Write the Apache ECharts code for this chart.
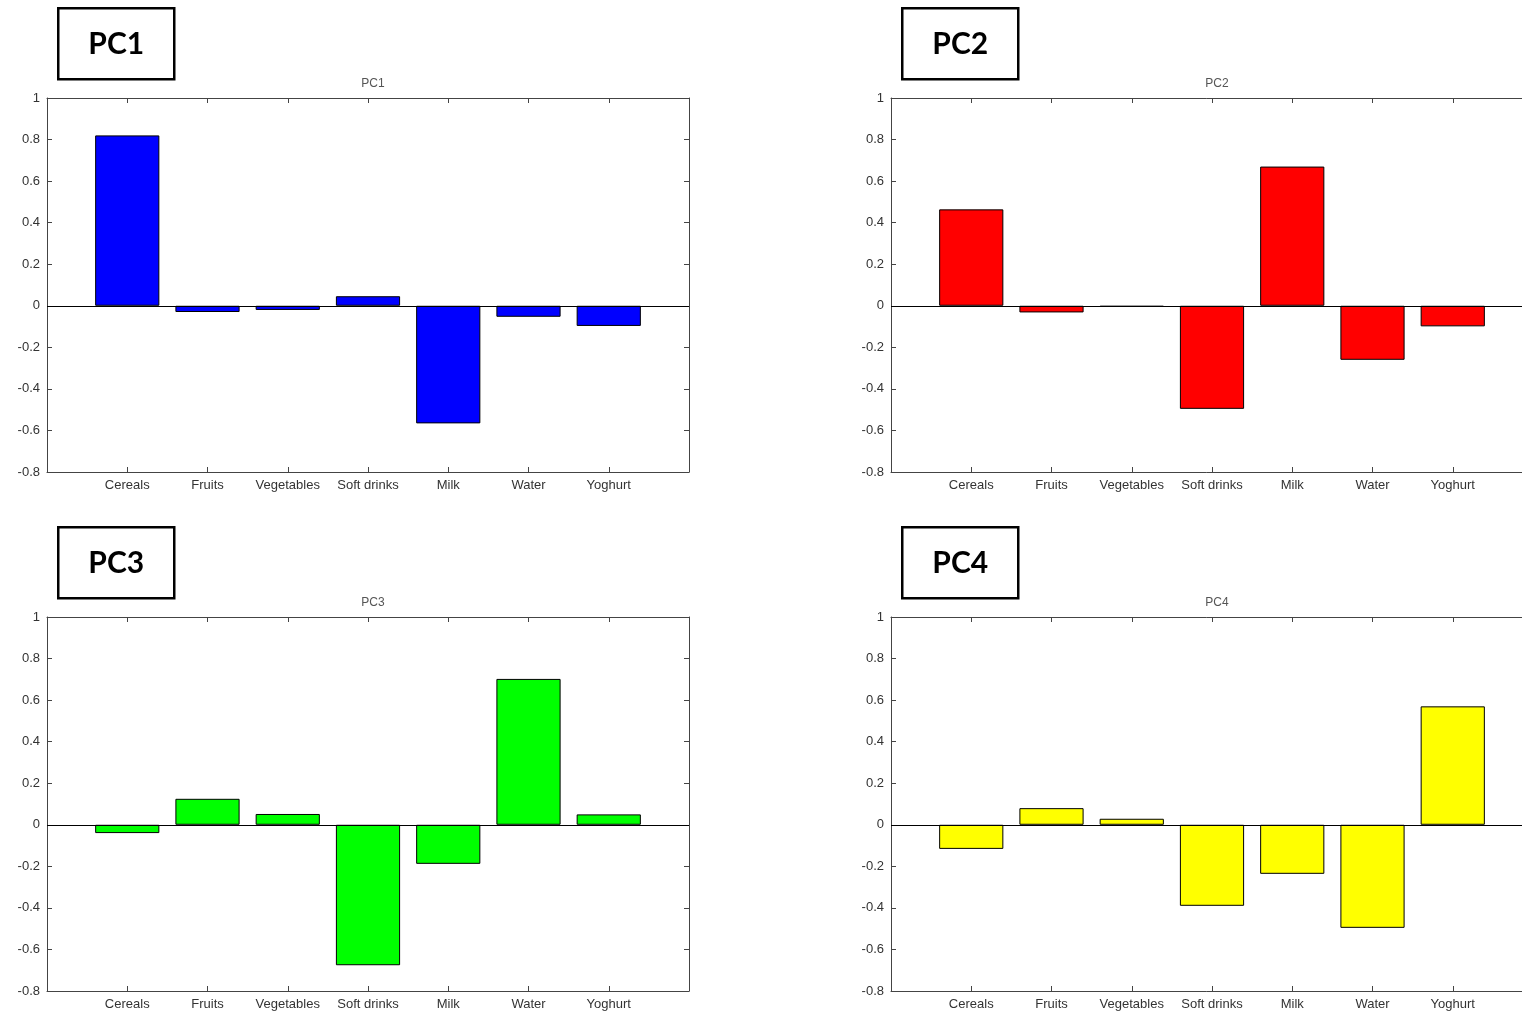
<!DOCTYPE html>
<html>
<head>
<meta charset="utf-8">
<script src="https://cdn.jsdelivr.net/npm/echarts@6/dist/echarts.min.js"></script>
<style>
html,body{margin:0;padding:0;background:#fff;}
#chart{width:1522px;height:1015px;}
</style>
</head>
<body>
<div id="chart"></div>
<script>
const categories = ['Cereals', 'Fruits', 'Vegetables', 'Soft drinks', 'Milk', 'Water', 'Yoghurt'];
const pc1 = [0.82, -0.03, -0.02, 0.046, -0.566, -0.053, -0.097];
const pc2 = [0.464, -0.032, -0.005, -0.496, 0.67, -0.26, -0.099];
const pc3 = [-0.04, 0.125, 0.052, -0.676, -0.188, 0.702, 0.05];
const pc4 = [-0.116, 0.08, 0.029, -0.39, -0.236, -0.496, 0.57];
const panelNames = ['PC1', 'PC2', 'PC3', 'PC4'];
const yTicks = {min: -0.8, max: 1, interval: 0.2};

const panels = [
  {name: panelNames[0], values: pc1, color: '#0000ff', left: 47, top: 98},
  {name: panelNames[1], values: pc2, color: '#ff0000', left: 891, top: 98},
  {name: panelNames[2], values: pc3, color: '#00ff00', left: 47, top: 617},
  {name: panelNames[3], values: pc4, color: '#ffff00', left: 891, top: 617}
];
const W = 642, H = 374;
const axisCats = [' '].concat(categories).concat(['  ']);
const font = 'Liberation Sans';
const labelColor = '#333';
const lineColor = '#444';

const grid = [], xAxis = [], yAxis = [], series = [], title = [], graphic = [];
panels.forEach((p, i) => {
  grid.push({left: p.left, top: p.top, width: W, height: H, containLabel: false, outerBoundsMode: 'none'});
  xAxis.push({
    type: 'category', gridIndex: i, data: axisCats, boundaryGap: false, position: 'bottom',
    axisLine: {onZero: false, lineStyle: {color: lineColor, width: 1}},
    axisTick: {inside: true, length: 5, lineStyle: {color: lineColor}},
    axisLabel: {interval: 0, margin: 7, fontFamily: font, fontSize: 13, color: labelColor},
    splitLine: {show: false}
  });
  xAxis.push({
    type: 'category', gridIndex: i, data: axisCats, boundaryGap: false, position: 'top',
    axisLine: {onZero: false, lineStyle: {color: lineColor, width: 1}},
    axisTick: {inside: true, length: 5, lineStyle: {color: lineColor}},
    axisLabel: {show: false}, splitLine: {show: false}
  });
  yAxis.push({
    type: 'value', gridIndex: i, min: yTicks.min, max: yTicks.max, interval: yTicks.interval, position: 'left',
    axisLine: {show: true, onZero: false, lineStyle: {color: lineColor, width: 1}},
    axisTick: {show: true, inside: true, length: 5, lineStyle: {color: lineColor}},
    axisLabel: {margin: 7, fontFamily: font, fontSize: 13, color: labelColor,
      formatter: v => String(Math.round(v * 10) / 10)},
    splitLine: {show: false}
  });
  yAxis.push({
    type: 'value', gridIndex: i, min: yTicks.min, max: yTicks.max, interval: yTicks.interval, position: 'right',
    axisLine: {show: true, onZero: false, lineStyle: {color: lineColor, width: 1}},
    axisTick: {show: true, inside: true, length: 5, lineStyle: {color: lineColor}},
    axisLabel: {show: false}, splitLine: {show: false}
  });
  series.push({
    type: 'bar', name: p.name, xAxisIndex: i * 2, yAxisIndex: i * 2,
    data: [null].concat(p.values).concat([null]),
    barWidth: '80%',
    itemStyle: {color: p.color, borderColor: '#000', borderWidth: 1},
    silent: true,
    markLine: {
      silent: true, symbol: ['none', 'none'], label: {show: false},
      lineStyle: {color: '#000', type: 'solid', width: 1},
      data: [{yAxis: 0}]
    }
  });
  title.push({
    text: p.name, left: p.left + W / 2, top: p.top - 25, textAlign: 'center',
    textStyle: {fontFamily: font, fontSize: 12, fontWeight: 'normal', color: '#555'}
  });
  const bx = p.left + 10, by = p.top - 91;
  graphic.push({
    type: 'group', left: bx, top: by,
    children: [
      {type: 'rect', shape: {x: 0, y: 0, width: 116, height: 71},
        style: {fill: '#fff', stroke: '#000', lineWidth: 2.5}},
      {type: 'text', x: 58, y: 36, style: {text: p.name, font: 'bold 30px Lato', fill: '#000',
        textAlign: 'center', textVerticalAlign: 'middle'}}
    ]
  });
});

const chart = echarts.init(document.getElementById('chart'), null, {renderer: 'canvas'});
chart.setOption({
  backgroundColor: '#fff',
  animation: false,
  title, grid, xAxis, yAxis, series, graphic
});
</script>
</body>
</html>
